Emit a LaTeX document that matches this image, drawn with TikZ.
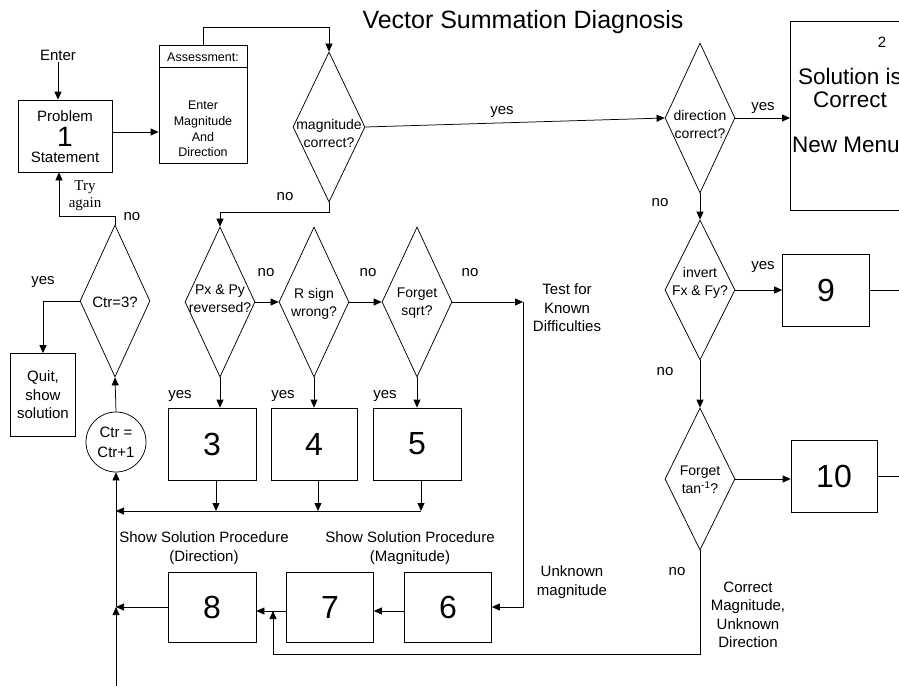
\documentclass[tikz,border=0pt]{standalone}
\usepackage{fontspec}
\setmainfont{Liberation Sans}
\newfontfamily\timesfont{Liberation Serif}
\usetikzlibrary{positioning}
\usetikzlibrary{arrows.meta, shapes.geometric}

\begin{document}
\begin{tikzpicture}[x=1pt, y=-1pt, line width=0.75pt,
		>={Triangle[length=8pt,width=7pt]},
		every node/.style={font=\fontsize{15}{18.5}\selectfont, align=center, inner sep=1pt},
		box/.style={draw, inner sep=0pt},
		numbox/.style={box, minimum width=87pt, minimum height=72pt, font=\fontsize{32}{32}\selectfont},
		decision/.style={draw, diamond, inner sep=0pt, minimum width=70pt, minimum height=150pt},
		dtext/.style={font=\fontsize{14}{18}\selectfont},
		small/.style={font=\fontsize{12.5}{15.7}\selectfont}]
		\useasboundingbox (0,0) rectangle (899,685);
		\clip (0,0) rectangle (899,685);

		\node[font=\fontsize{25}{25}\selectfont] (title) at (523,22) {Vector Summation Diagnosis};

		% problem statement and assessment
		\node (enter) at (58,55) {Enter};
		\node[box, minimum width=94pt, minimum height=72pt] (prob) at (65,136) {};
		\node[inner sep=0pt] (probA) at (65,116) {Problem};
		\node[font=\fontsize{28}{28}\selectfont, inner sep=0pt] (probN) at (65,136.5) {1};
		\node[inner sep=0pt] (probB) at (65,157) {Statement};
		\node[box, minimum width=88pt, minimum height=118pt] (assess) at (203,104) {};
		\draw ([yshift=-23pt]assess.north west) -- ([yshift=-23pt]assess.north east);
		\node[small] (assessA) at (203,57) {Assessment:};
		\node[small] (assessB) at (203,129) {Enter\\Magnitude\\And\\Direction};

		\draw[->] (enter) -- (enter |- prob.north);
		\draw[->] ([yshift=4pt]prob.east) -- ([yshift=4pt]prob.east -| assess.west);

		% magnitude and direction checks
		\node[decision, minimum width=72pt] (mag) at (329,127) {};
		\node[dtext] (magT) at (329,133) {magnitude\\correct?};
		\node[decision] (dir) at (700,118) {};
		\node[dtext] (dirT) at (700,124) {direction\\correct?};
		\node[box, minimum width=120pt, minimum height=189pt, anchor=north west] (sol) at (790,21) {};
		\node (solN) at (882,42) {2};
		\node[font=\fontsize{22.5}{23}\selectfont] (solA) at (850,88) {Solution is\\Correct};
		\node[font=\fontsize{22.5}{23}\selectfont] (solB) at (846,145) {New Menu};

		\draw[->] (assess.north) -- ++(0,-17) -| (mag.north);
		\draw[->] (mag.east) -- (dir.west);
		\draw[->] (dir.east) -- (dir.east -| sol.west);
		\node (yesM) at (502,112) {yes};
		\node (yesD) at (763,108) {yes};

		% direction errors
		\node[decision, minimum height=140pt] (inv) at (700,290) {};
		\node[dtext] (invT) at (700,283) {invert\\Fx \& Fy?};
		\node[numbox] (b9) at (826,290) {9};
		\node[decision, minimum height=142pt] (tan) at (700,479) {};
		\node[dtext] (tanT) at (700,480) {Forget\\tan\textsuperscript{-1}?};
		\node[numbox, minimum width=86pt] (b10) at (834,476) {10};

		\draw[->] (dir.south) -- (inv.north);
		\draw[->] (inv.east) -- (b9.west);
		\draw[->] (b9.east) -- ++(38,0);
		\draw[->] (inv.south) -- (tan.north);
		\draw[->] (tan.east) -- (tan.east -| b10.west);
		\draw[->] (b10.east) -- ++(30,0);
		\node (noD) at (660,203) {no};
		\node (yes9) at (763,267) {yes};
		\node (noI) at (665,372) {no};
		\node (noT) at (677,572) {no};
		\node (corr) at (748,615) {Correct\\Magnitude,\\Unknown\\Direction};

		% known difficulties
		\node[decision] (pxpy) at (220,302) {};
		\node[dtext] (pxpyT) at (220,299) {Px \& Py\\reversed?};
		\node[decision] (rsign) at (314,302) {};
		\node[dtext] (rsignT) at (314,304) {R sign\\wrong?};
		\node[decision] (sqrt) at (417,302) {};
		\node[dtext] (sqrtT) at (417,303) {Forget\\sqrt?};
		\node[numbox, minimum width=88pt] (b3) at (212,444) {3};
		\node[numbox, minimum width=86pt] (b4) at (314,444) {4};
		\node[numbox, minimum width=88pt] (b5) at (417,444) {5};
		\coordinate (known) at (523,302);

		\draw[->] (mag.south) -- ++(0,10) -| (pxpy.north);
		\draw[->] (pxpy.east) -- (rsign.west);
		\draw[->] (rsign.east) -- (sqrt.west);
		\draw[->] (sqrt.east) -- (known);
		\draw[->] (pxpy.south) -- (pxpy.south |- b3.north);
		\draw[->] (rsign.south) -- (rsign.south |- b4.north);
		\draw[->] (sqrt.south) -- (sqrt.south |- b5.north);
		\node (noM) at (285,197) {no};
		\node (noP) at (266,273) {no};
		\node (noR) at (368,273) {no};
		\node (noS) at (470,273) {no};
		\node (yes3) at (180,396) {yes};
		\node (yes4) at (283,396) {yes};
		\node (yes5) at (385,396) {yes};
		\node (test) at (567,308) {Test for\\Known\\Difficulties};

		% solution procedures
		\node[numbox, minimum width=88pt, minimum height=70pt] (b8) at (212,607) {8};
		\node[numbox, minimum height=70pt] (b7) at (330,607) {7};
		\node[numbox, minimum height=70pt] (b6) at (448,607) {6};
		\node (procD) at (204,548) {Show Solution Procedure\\(Direction)};
		\node (procM) at (410,548) {Show Solution Procedure\\(Magnitude)};
		\node (unknown) at (572,582) {Unknown\\magnitude};
		\coordinate (j78) at (273,611);
		\coordinate (bendL) at (273,654);

		\draw[->] (known) |- (b6.east);
		\draw[->] ([yshift=-4pt]b6.west) -- ([yshift=-4pt]b6.west -| b7.east);
		\draw[->] ([yshift=-4pt]b7.west) -- ([yshift=-4pt]b7.west -| b8.east);
		\draw[->] (tan.south) |- (bendL) -- (j78);

		% counter and retry loop
		\node[decision, minimum height=152pt] (ctr3) at (115,301) {};
		\node (ctr3T) at (115,302) {Ctr=3?};
		\node[box, minimum width=65pt, minimum height=83pt] (quit) at (43,395) {Quit,\\show\\solution};
		\node[draw, circle, minimum size=60pt, inner sep=0pt, font=\fontsize{15}{20}\selectfont] (inc) at (116,442) {Ctr =\\Ctr+1};
		\coordinate (jc) at (116,511);
		\coordinate (j8) at (116,607);
		\coordinate (low) at (116,692);
		\coordinate (c3) at (216,511);
		\coordinate (c4) at (318,511);
		\coordinate (c5) at (421,511);

		\draw[->] (ctr3.north) -- ++(0,-8) -| ([xshift=-6pt]prob.south);
		\draw[->] (ctr3.west) -| (quit.north);
		\draw[->] (inc.north) -- (ctr3.south);
		\draw[->] (low) -- (j8);
		\draw[->] (j8) -- (inc.south);
		\draw[->] (b8.west) -- (j8);
		\draw[->] (b3.south -| c3) -- (c3);
		\draw[->] (b4.south -| c4) -- (c4);
		\draw[->] (b5.south -| c5) -- (c5);
		\draw[->] (c5) -- (jc);
		\node (noC) at (132,217) {no};
		\node (yesC) at (43,282) {yes};
		\node[font=\timesfont\fontsize{15}{17}\selectfont] (again) at (85,196) {Try\\again};
	\end{tikzpicture}
\end{document}
